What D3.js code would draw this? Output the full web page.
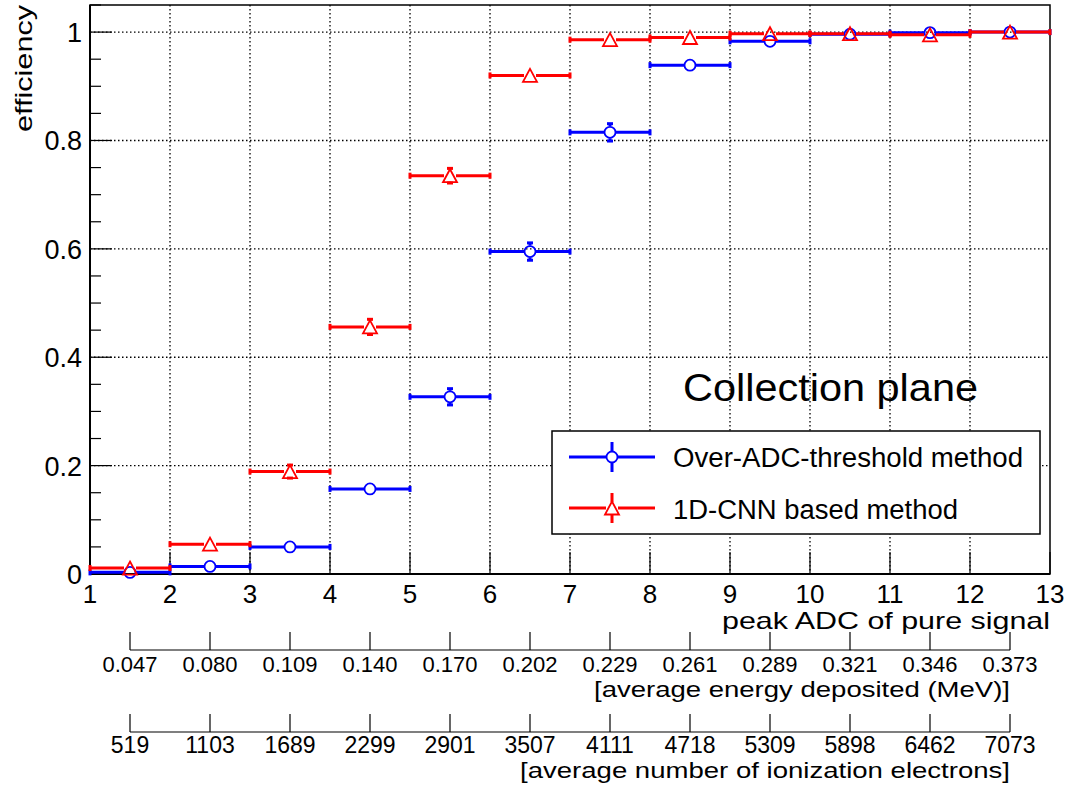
<!DOCTYPE html>
<html>
<head>
<meta charset="utf-8">
<script src="https://cdn.jsdelivr.net/npm/d3@7"></script>
<style>
  html, body { margin: 0; padding: 0; background: #fff; }
  svg { display: block; }
  text { font-family: "Liberation Sans", Arial, Helvetica, sans-serif; fill: #000; }
</style>
</head>
<body>
<svg id="chart" width="1074" height="789"></svg>
<script>
// ---------------- data ----------------
const binCenters = [1.5, 2.5, 3.5, 4.5, 5.5, 6.5, 7.5, 8.5, 9.5, 10.5, 11.5, 12.5];
const binHalfWidth = 0.5;
const overADC    = [0.003, 0.014, 0.050, 0.157, 0.327, 0.595, 0.815, 0.939, 0.983, 0.996, 0.999, 1.000];
const overADCErr = [0.002, 0.004, 0.007, 0.010, 0.015, 0.016, 0.016, 0.008, 0.004, 0.002, 0.001, 0.001];
const cnn        = [0.011, 0.055, 0.189, 0.456, 0.735, 0.920, 0.986, 0.990, 0.997, 0.997, 0.995, 1.000];
const cnnErr     = [0.003, 0.007, 0.012, 0.014, 0.0135, 0.009, 0.004, 0.003, 0.002, 0.002, 0.002, 0.001];
const xTickValues = [1, 2, 3, 4, 5, 6, 7, 8, 9, 10, 11, 12, 13];
const yMajorTicks = [0, 0.2, 0.4, 0.6, 0.8, 1];
const yMinorTicks = [0.05,0.1,0.15,0.25,0.3,0.35,0.45,0.5,0.55,0.65,0.7,0.75,0.85,0.9,0.95,1.05];
const energyLabels = ["0.047","0.080","0.109","0.140","0.170","0.202","0.229","0.261","0.289","0.321","0.346","0.373"];
const electronLabels = ["519","1103","1689","2299","2901","3507","4111","4718","5309","5898","6462","7073"];
const seriesNames = ["Over-ADC-threshold method", "1D-CNN based method"];
const seriesColors = ["#0000ff", "#ff0000"];

// ---------------- layout ----------------
const svg = d3.select("#chart");
const x = d3.scaleLinear().domain([1, 13]).range([90, 1050]);
const y = d3.scaleLinear().domain([0, 1.05]).range([574, 5]);

function fitText(g, txt, px, py, size, anchor, len) {
  const t = g.append("text").attr("x", px).attr("y", py)
    .attr("font-size", size).attr("text-anchor", anchor).text(txt);
  if (len) t.attr("textLength", len).attr("lengthAdjust", "spacingAndGlyphs");
  return t;
}

// grid (dotted)
const grid = svg.append("g");
grid.selectAll("line.vg").data(xTickValues.slice(1, -1)).enter().append("line")
  .attr("x1", d => x(d)).attr("x2", d => x(d)).attr("y1", y(1.05)).attr("y2", y(0))
  .attr("stroke", "#000").attr("stroke-width", 1.3).attr("stroke-dasharray", "1.5,2.5");
grid.selectAll("line.hg").data(yMajorTicks.slice(1)).enter().append("line")
  .attr("x1", x(1)).attr("x2", x(13)).attr("y1", d => y(d)).attr("y2", d => y(d))
  .attr("stroke", "#000").attr("stroke-width", 1.3).attr("stroke-dasharray", "1.5,2.5");

// frame
svg.append("rect").attr("x", x(1)).attr("y", y(1.05)).attr("width", x(13) - x(1)).attr("height", y(0) - y(1.05))
  .attr("fill", "none").attr("stroke", "#000").attr("stroke-width", 1.5);

// x axis ticks and labels
const xAx = svg.append("g");
xAx.selectAll("line").data(xTickValues).enter().append("line")
  .attr("x1", d => x(d)).attr("x2", d => x(d)).attr("y1", y(0)).attr("y2", y(0) - 22)
  .attr("stroke", "#000").attr("stroke-width", 1.2);
xAx.selectAll("text").data(xTickValues).enter().append("text")
  .attr("x", d => x(d)).attr("y", 603).attr("text-anchor", "middle")
  .attr("font-size", 26).text(d => d);
svg.append("line").attr("x1", x(1)).attr("x2", x(13)).attr("y1", y(0)).attr("y2", y(0))
  .attr("stroke", "#000").attr("stroke-width", 2.2);
fitText(svg, "peak ADC of pure signal", 1050, 629, 24, "end", 328);

// y axis
const yAx = svg.append("g");
yAx.selectAll("line.maj").data(yMajorTicks).enter().append("line")
  .attr("x1", x(1)).attr("x2", x(1) + 22).attr("y1", d => y(d)).attr("y2", d => y(d))
  .attr("stroke", "#000").attr("stroke-width", 1.2);
yAx.selectAll("line.min").data(yMinorTicks).enter().append("line")
  .attr("x1", x(1)).attr("x2", x(1) + 11).attr("y1", d => y(d)).attr("y2", d => y(d))
  .attr("stroke", "#000").attr("stroke-width", 1.2);
yAx.selectAll("text").data(yMajorTicks).enter().append("text")
  .attr("x", 82).attr("y", d => y(d) + 10).attr("text-anchor", "end")
  .attr("font-size", 27).text(d => d3.format("")(+d.toFixed(1)));
svg.append("line").attr("x1", x(1)).attr("x2", x(1)).attr("y1", y(0)).attr("y2", y(1.05))
  .attr("stroke", "#000").attr("stroke-width", 2);
svg.append("text").attr("transform", "translate(32,5) rotate(-90)")
  .attr("text-anchor", "end").attr("font-size", 24)
  .attr("textLength", 127).attr("lengthAdjust", "spacingAndGlyphs").text("efficiency");

// secondary axes
function secondaryAxis(axisY, labels, labelY, labelSize, title, titleY, titleLen) {
  const g = svg.append("g");
  g.append("line").attr("x1", x(binCenters[0])).attr("x2", x(binCenters[binCenters.length - 1]))
    .attr("y1", axisY).attr("y2", axisY).attr("stroke", "#000").attr("stroke-width", 1.2);
  g.selectAll("line.t").data(binCenters).enter().append("line")
    .attr("x1", d => x(d)).attr("x2", d => x(d)).attr("y1", axisY).attr("y2", axisY - 18)
    .attr("stroke", "#000").attr("stroke-width", 1.2);
  g.selectAll("text.l").data(labels).enter().append("text")
    .attr("x", (d, i) => x(binCenters[i])).attr("y", labelY).attr("text-anchor", "middle")
    .attr("font-size", labelSize).text(d => d);
  fitText(g, title, x(binCenters[binCenters.length - 1]), titleY, 22, "end", titleLen);
}
secondaryAxis(650, energyLabels, 672, 22, "[average energy deposited (MeV)]", 697, 416);
secondaryAxis(732, electronLabels, 753, 23, "[average number of ionization electrons]", 778, 490);

// ---------------- series ----------------
const R = 6; // marker half size
function markerPath(kind) {
  if (kind === "circle") return d3.symbol().type(d3.symbolCircle).size(Math.PI * 5.5 * 5.5)();
  return "M0,-6.5L7,6.5L-7,6.5Z";
}
function drawSeries(vals, errs, color, kind) {
  const g = svg.append("g");
  vals.forEach((v, i) => {
    const cx = x(binCenters[i]), cy = y(v);
    const xl = x(binCenters[i] - binHalfWidth), xr = x(binCenters[i] + binHalfWidth);
    g.append("line").attr("x1", xl).attr("x2", cx - R).attr("y1", cy).attr("y2", cy)
      .attr("stroke", color).attr("stroke-width", 3);
    g.append("line").attr("x1", cx + R).attr("x2", xr).attr("y1", cy).attr("y2", cy)
      .attr("stroke", color).attr("stroke-width", 3);
    [xl, xr].forEach(ex => g.append("line").attr("x1", ex).attr("x2", ex)
      .attr("y1", cy - 3).attr("y2", cy + 3).attr("stroke", color).attr("stroke-width", 3));
    const ePx = y(0) - y(errs[i]);
    if (ePx > R) {
      [[cy - R, cy - ePx], [cy + R, cy + ePx]].forEach(([a, b]) => {
        g.append("line").attr("x1", cx).attr("x2", cx).attr("y1", a).attr("y2", b)
          .attr("stroke", color).attr("stroke-width", 3);
        g.append("line").attr("x1", cx - 3).attr("x2", cx + 3).attr("y1", b).attr("y2", b)
          .attr("stroke", color).attr("stroke-width", 3);
      });
    }
    g.append("path").attr("d", markerPath(kind)).attr("transform", `translate(${cx},${cy})`)
      .attr("fill", "none").attr("stroke", color).attr("stroke-width", 1.8);
  });
}
drawSeries(overADC, overADCErr, seriesColors[0], "circle");
drawSeries(cnn, cnnErr, seriesColors[1], "triangle");

// ---------------- annotation ----------------
fitText(svg, "Collection plane", 683, 401, 39, "start", 295);

// ---------------- legend ----------------
const leg = svg.append("g");
leg.append("rect").attr("x", 552).attr("y", 431).attr("width", 488).attr("height", 103)
  .attr("fill", "#fff").attr("stroke", "#000").attr("stroke-width", 1.5);
const legRows = [
  { name: seriesNames[0], color: seriesColors[0], kind: "circle", yy: 457, ty: 467, len: 350 },
  { name: seriesNames[1], color: seriesColors[1], kind: "triangle", yy: 508, ty: 519, len: 285 }
];
legRows.forEach(r => {
  const mx = 612;
  leg.append("line").attr("x1", 569).attr("x2", mx - R).attr("y1", r.yy).attr("y2", r.yy)
    .attr("stroke", r.color).attr("stroke-width", 3);
  leg.append("line").attr("x1", mx + R).attr("x2", 655).attr("y1", r.yy).attr("y2", r.yy)
    .attr("stroke", r.color).attr("stroke-width", 3);
  leg.append("line").attr("x1", mx).attr("x2", mx).attr("y1", r.yy - 15).attr("y2", r.yy - R)
    .attr("stroke", r.color).attr("stroke-width", 3);
  leg.append("line").attr("x1", mx).attr("x2", mx).attr("y1", r.yy + R).attr("y2", r.yy + 15)
    .attr("stroke", r.color).attr("stroke-width", 3);
  leg.append("path").attr("d", markerPath(r.kind)).attr("transform", `translate(${mx},${r.yy})`)
    .attr("fill", "none").attr("stroke", r.color).attr("stroke-width", 1.8);
  fitText(leg, r.name, 673, r.ty, 27, "start", r.len);
});
</script>
</body>
</html>
